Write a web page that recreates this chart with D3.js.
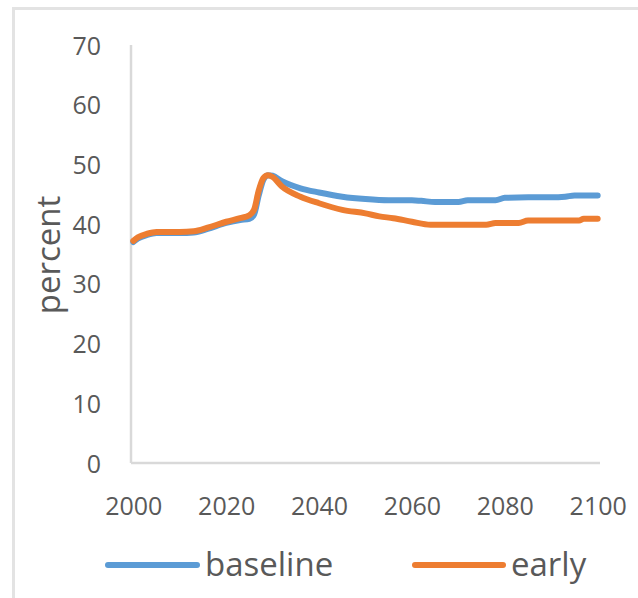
<!DOCTYPE html>
<html>
<head>
<meta charset="utf-8">
<script src="https://cdn.jsdelivr.net/npm/d3@7"></script>
<style>
  html, body { margin: 0; padding: 0; background: #ffffff; }
  svg { display: block; }
</style>
</head>
<body>
<svg id="chart" width="638" height="598"></svg>
<script>
// ---- data ----
const baselineYears = [2000, 2001, 2003, 2005, 2010, 2013, 2016, 2020, 2023, 2025, 2026, 2027, 2028, 2029, 2030, 2032, 2036, 2040, 2045, 2050, 2055, 2060, 2062, 2065, 2070, 2072, 2075, 2078, 2080, 2085, 2090, 2093, 2095, 2100];
const baselineValues = [37.0, 37.6, 38.2, 38.5, 38.5, 38.6, 39.2, 40.2, 40.7, 40.9, 41.6, 44.8, 47.4, 48.2, 48.1, 47.2, 46.0, 45.3, 44.6, 44.2, 44.0, 44.0, 43.9, 43.7, 43.7, 44.0, 44.0, 44.0, 44.4, 44.5, 44.5, 44.6, 44.8, 44.8];

const earlyYears = [2000, 2001, 2003, 2005, 2010, 2013, 2016, 2020, 2023, 2025, 2026, 2027, 2028, 2029, 2030, 2032, 2036, 2040, 2045, 2050, 2053, 2056, 2060, 2064, 2070, 2076, 2078, 2083, 2085, 2090, 2096, 2097, 2100];
const earlyValues = [37.2, 37.8, 38.4, 38.7, 38.7, 38.8, 39.4, 40.4, 41.0, 41.5, 42.4, 45.6, 47.7, 48.2, 47.9, 46.3, 44.6, 43.5, 42.4, 41.8, 41.3, 41.0, 40.4, 39.9, 39.9, 39.9, 40.2, 40.2, 40.6, 40.6, 40.6, 40.9, 40.9];

const seriesNames = ["baseline", "early"];
const seriesColors = ["#5b9bd5", "#ed7d31"];
const xTicks = [2000, 2020, 2040, 2060, 2080, 2100];
const yTicks = [0, 10, 20, 30, 40, 50, 60, 70];
const yTitle = "percent";

// ---- layout ----
const svg = d3.select("#chart");
const textColor = "#595959";
const axisColor = "#d9d9d9";
const font = "'Open Sans', 'Liberation Sans', sans-serif";

// outer chart frame (partly cropped)
svg.append("rect")
  .attr("x", 13.5).attr("y", 8.5)
  .attr("width", 800).attr("height", 800)
  .attr("fill", "none")
  .attr("stroke", "#e3e3e3")
  .attr("stroke-width", 3);

const x = d3.scaleLinear().domain([1999.5, 2100.5]).range([131, 600]);
const y = d3.scaleLinear().domain([0, 70]).range([463, 45]);

// x axis
const gx = svg.append("g").attr("transform", `translate(0,${y(0)})`)
  .call(d3.axisBottom(x).tickValues(xTicks).tickSize(0).tickFormat(d3.format("d")));
gx.select(".domain").attr("stroke", axisColor).attr("stroke-width", 2.5)
  .attr("d", `M${x.range()[0]},0H${x.range()[1]}`);
gx.selectAll("text")
  .attr("y", 52).attr("dy", 0)
  .attr("fill", textColor)
  .style("font-family", font).style("font-size", "25px");

// y axis
const gy = svg.append("g").attr("transform", `translate(${x.range()[0]},0)`)
  .call(d3.axisLeft(y).tickValues(yTicks).tickSize(0));
gy.select(".domain").attr("stroke", axisColor).attr("stroke-width", 2.5)
  .attr("d", `M0,${y(0)}V${y(70)}`);
gy.selectAll("text")
  .attr("x", -30).attr("dy", 9)
  .attr("fill", textColor)
  .style("font-family", font).style("font-size", "25px");

// y title
svg.append("text")
  .attr("transform", `translate(60,${(y(0) + y(70)) / 2 + 1}) rotate(-90)`)
  .attr("text-anchor", "middle")
  .attr("fill", textColor)
  .style("font-family", font).style("font-size", "33px")
  .text(yTitle);

// lines
const line = d3.line()
  .x(d => x(d[0])).y(d => y(d[1]))
  .curve(d3.curveMonotoneX);

const series = [
  baselineYears.map((yr, i) => [yr, baselineValues[i]]),
  earlyYears.map((yr, i) => [yr, earlyValues[i]])
];

series.forEach((s, i) => {
  svg.append("path")
    .datum(s)
    .attr("d", line)
    .attr("fill", "none")
    .attr("stroke", seriesColors[i])
    .attr("stroke-width", 6)
    .attr("stroke-linejoin", "round")
    .attr("stroke-linecap", "round");
});

// legend
const legendItems = [
  { x0: 108, x1: 197, tx: 205 },
  { x0: 415, x1: 503, tx: 511 }
];
legendItems.forEach((p, i) => {
  svg.append("line")
    .attr("x1", p.x0).attr("x2", p.x1)
    .attr("y1", 565).attr("y2", 565)
    .attr("stroke", seriesColors[i])
    .attr("stroke-width", 6)
    .attr("stroke-linecap", "round");
  svg.append("text")
    .attr("x", p.tx).attr("y", 576)
    .attr("fill", textColor)
    .style("font-family", font).style("font-size", "33px")
    .text(seriesNames[i]);
});
</script>
</body>
</html>
